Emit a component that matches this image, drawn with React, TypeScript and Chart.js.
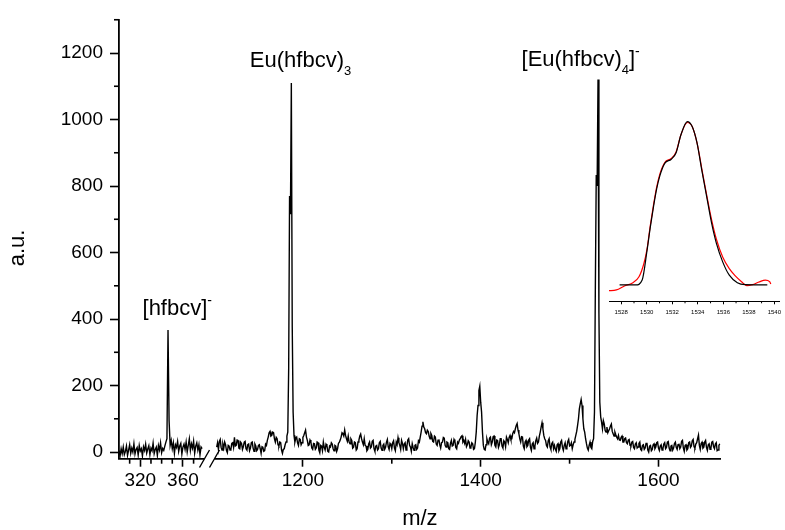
import React, { useEffect, useRef } from 'react';
import { Chart, registerables } from 'chart.js';

Chart.register(...registerables);

// ---------------- data ----------------
// left segment of the broken m/z axis (300 .. 378, step 1)
const leftStart = 300;
const leftStep = 1;
const leftIntensity = [
  5, -12, 10, -5, 15, -8, 2, 18, -10, 6,
  22, -4, 12, 0, 25, -6, 8, 14, -9, 20,
  3, 10, -12, 16, 5, 24, -3, 9, 19, -8,
  12, 4, 27, -5, 8, 15, -10, 20, 6, 28,
  -2, 11, 5, 18, 30, 40, 367, 95, 20, 35,
  10, 28, -4, 22, 14, 32, 2, 18, 26, -6,
  15, 24, 8, 30, 0, 20, 40, 5, 25, 12,
  33, -3, 18, 28, 6, 22, -8, 15, 10,
];

// right segment of the broken m/z axis (1103 .. 1669, step 1)
const rightStart = 1103;
const rightStep = 1;
const rightIntensity = [
  15, 28, 8, 32, 38, 14, 6, 24, 12, 30,
  22, 5, -2, 20, 18, 6, 8, 26, 28, 14,
  44, 18, 20, 36, 35, 12, 10, 30, 26, 8,
  16, 30, 32, 10, 6, 22, 24, 4, 12, 28,
  30, 12, 2, 24, 18, 4, 8, 20, 22, 10,
  -4, 16, 14, 2, 4, 24, 20, 35, 45, 58,
  62, 48, 50, 60, 58, 40, 30, 44, 40, 22,
  18, 30, 28, 6, -4, 8, 10, 22, 30, 48,
  60, 250, 770, 715, 1110, 380, 120, 50, 30, 42,
  45, 28, 20, 40, 38, 22, 28, 44, 50, 58,
  66, 45, 35, 20, 22, 36, 30, 12, 8, 26,
  25, 8, 12, 30, 28, 6, -2, 20, 18, 4,
  30, 14, 6, 24, 20, 2, 0, 18, 15, 28,
  24, 10, 4, 20, 18, 2, 10, 26, 30, 36,
  45, 58, 55, 48, 66, 50, 40, 32, 48, 30,
  25, 40, 35, 12, 15, 30, 28, 6, 10, 30,
  36, 48, 54, 40, 30, 22, 40, 20, 18, 4,
  8, 24, 30, 12, 15, 32, 35, 10, 2, 18,
  20, 6, 10, 28, 32, 12, 5, 20, 24, 8,
  14, 30, 38, 16, 8, 26, 22, 10, 28, 34,
  12, 4, 30, 22, 43, 28, 20, 8, 35, 26,
  10, 24, 28, 6, 18, 36, 40, 20, 15, 2,
  25, 14, 5, 20, 22, 8, 12, 34, 30, 45,
  60, 78, 91, 75, 70, 58, 55, 66, 62, 48,
  40, 56, 50, 32, 30, 48, 45, 24, 20, 36,
  38, 22, 12, 28, 30, 44, 42, 20, 15, 30,
  28, 10, 8, 26, 35, 18, 20, 38, 32, 14,
  10, 30, 26, 36, 40, 46, 49, 30, 35, 26,
  38, 16, 22, 34, 30, 12, 15, 28, 25, 8,
  10, 30, 60, 110, 140, 185, 198, 150, 120, 60,
  20, 8, 6, 22, 40, 30, 25, 42, 45, 22,
  30, 46, 48, 20, 15, 36, 35, 14, 22, 40,
  40, 18, 12, 34, 30, 16, 45, 38, 28, 44,
  50, 38, 40, 55, 62, 58, 70, 80, 86, 66,
  55, 40, 30, 46, 45, 18, 10, 30, 35, 16,
  20, 36, 40, 14, 5, 24, 28, 10, 18, 34,
  42, 26, 30, 48, 60, 75, 88, 70, 50, 40,
  35, 20, 15, 34, 40, 16, 8, 26, 30, 10,
  20, 8, 2, 22, 25, 4, 10, 30, 35, 14,
  5, 20, 28, 10, 15, 32, 38, 18, 20, 28,
  10, 22, 30, 38, 50, 62, 80, 100, 130, 145,
  158, 140, 100, 70, 60, 40, 25, 12, 6, 20,
  30, 14, 10, 32, 40, 120, 500, 833, 800, 1120,
  420, 150, 106, 90, 70, 95, 85, 65, 60, 75,
  58, 64, 70, 78, 84, 62, 55, 48, 60, 52,
  45, 40, 50, 36, 35, 44, 48, 30, 30, 40,
  42, 28, 25, 36, 38, 20, 18, 30, 32, 14,
  10, 24, 28, 12, 15, 26, 30, 8, 5, 20,
  22, 8, 12, 26, 28, 6, 0, 18, 20, 4,
  8, 22, 25, 10, 15, 28, 30, 12, 5, 18,
  22, 6, 10, 24, 28, 10, 14, 30, 32, 12,
  4, 18, 20, 6, 12, 26, 30, 14, 8, 22,
  25, 10, 15, 32, 35, 12, 2, 20, 22, 6,
  10, 28, 30, 14, 18, 34, 38, 16, 12, 24,
  28, 40, 51, 20, 8, 26, 30, 12, 15, 30,
  35, 14, 5, 22, 25, 8, 12, 30, 32, 16,
  10, 24, 28, 4, 6, 20, 25,
];

const yTickValues = [0, 200, 400, 600, 800, 1000, 1200];
const yMinorValues = [100, 300, 500, 700, 900, 1100, 1300];
const leftTickValues = [320, 360];
const leftMinorValues = [310, 330, 340, 350, 370];
const rightTickValues = [1200, 1400, 1600];
const rightMinorValues = [1300, 1500];

// inset: isotope pattern, experimental (black) and simulated (red)
const insetTickValues = [1528, 1530, 1532, 1534, 1536, 1538, 1540];
const insetMinorValues = [1529, 1531, 1533, 1535, 1537, 1539];
const insetBlackMz = [1527.87, 1529.14, 1529.64, 1530.02, 1530.27, 1530.53, 1530.78, 1531.03, 1531.41, 1531.92, 1532.30, 1532.68, 1533.18, 1533.56, 1533.94, 1534.32, 1534.70, 1535.08, 1535.46, 1535.96, 1536.47, 1537.10, 1537.73, 1539.45];
const insetBlackInt = [0, 0, 0.03, 0.21, 0.35, 0.48, 0.59, 0.67, 0.745, 0.77, 0.81, 0.92, 1.0, 0.97, 0.87, 0.70, 0.54, 0.38, 0.255, 0.14, 0.06, 0.014, 0.002, 0];
const insetRedMz = [1526.99, 1527.62, 1528.25, 1528.88, 1529.39, 1529.77, 1530.02, 1530.27, 1530.53, 1530.78, 1531.03, 1531.41, 1531.92, 1532.30, 1532.68, 1533.18, 1533.56, 1533.94, 1534.32, 1534.70, 1535.08, 1535.46, 1535.96, 1536.47, 1536.92, 1537.43, 1537.86, 1538.29, 1538.79, 1539.30, 1539.63, 1539.73];
const insetRedInt = [-0.035, -0.03, -0.006, 0.012, 0.05, 0.13, 0.22, 0.36, 0.49, 0.60, 0.68, 0.75, 0.775, 0.815, 0.92, 0.995, 0.97, 0.87, 0.71, 0.55, 0.40, 0.28, 0.17, 0.10, 0.057, 0.02, -0.004, 0.002, 0.018, 0.03, 0.02, 0.006];

// peak annotations
const annotationAxis = ['x1', 'x2', 'x2'];
const annotationMz = [346, 1187, 1532];
const annotationParts = [
  [{ t: '[hfbcv]', k: 'n' }, { t: '-', k: 'sup' }],
  [{ t: 'Eu(hfbcv)', k: 'n' }, { t: '3', k: 'sub' }],
  [{ t: '[Eu(hfbcv)', k: 'n' }, { t: '4', k: 'sub' }, { t: ']', k: 'n' }, { t: '-', k: 'sup' }],
];

// ---------------- styling helpers ----------------
const FONT = '"Liberation Sans", Arial, Helvetica, sans-serif';

function drawMinorTicks(chart: any, specs: { id: string; values: number[]; len: number; width: number }[]) {
  const ctx = chart.ctx;
  ctx.save();
  ctx.strokeStyle = '#000';
  for (const s of specs) {
    const sc = chart.scales[s.id];
    if (!sc) continue;
    ctx.lineWidth = s.width;
    for (const v of s.values) {
      const p = sc.getPixelForValue(v);
      ctx.beginPath();
      if (sc.isHorizontal()) {
        ctx.moveTo(p, sc.top);
        ctx.lineTo(p, sc.top + s.len);
      } else {
        ctx.moveTo(sc.right - s.len, p);
        ctx.lineTo(sc.right, p);
      }
      ctx.stroke();
    }
  }
  ctx.restore();
}

function drawParts(ctx: any, x: number, y: number, parts: { t: string; k: string }[]) {
  let cx = x;
  for (const p of parts) {
    let size = 22;
    let dy = 0;
    if (p.k === 'sub') { size = 13; dy = 8; }
    if (p.k === 'sup') { size = 14; dy = -10; }
    ctx.font = `${size}px ${FONT}`;
    ctx.fillText(p.t, cx, y + dy);
    cx += ctx.measureText(p.t).width;
  }
}

const mainDecor = {
  id: 'mainDecor',
  afterDraw(chart: any) {
    drawMinorTicks(chart, [
      { id: 'y', values: yMinorValues, len: 5, width: 1.6 },
      { id: 'x1', values: leftMinorValues, len: 5, width: 1.6 },
      { id: 'x2', values: rightMinorValues, len: 5, width: 1.6 },
    ]);
    const ctx = chart.ctx;
    const x1 = chart.scales.x1;
    ctx.save();
    // axis break
    const axisY = x1.top;
    ctx.fillStyle = '#fff';
    ctx.fillRect(204, axisY - 2.5, 10.5, 5);
    ctx.strokeStyle = '#000';
    ctx.lineWidth = 1.4;
    ctx.beginPath();
    ctx.moveTo(199.5, 467.5); ctx.lineTo(209.5, 450);
    ctx.moveTo(209.5, 467.5); ctx.lineTo(219.5, 450);
    ctx.stroke();

    // annotations
    ctx.fillStyle = '#000';
    ctx.textAlign = 'left';
    ctx.textBaseline = 'alphabetic';
    const offsets = [[-25.5, 315], [-41.5, 66.5], [-76.5, 66]];
    annotationMz.forEach((mz, i) => {
      const sc = chart.scales[annotationAxis[i]];
      const px = sc.getPixelForValue(mz);
      drawParts(ctx, px + offsets[i][0], offsets[i][1], annotationParts[i]);
    });

    // axis titles
    ctx.font = `22px ${FONT}`;
    ctx.textAlign = 'center';
    ctx.textBaseline = 'middle';
    ctx.fillText('m/z', (chart.chartArea.left + chart.chartArea.right) / 2, 519);
    ctx.translate(18, 248);
    ctx.rotate(-Math.PI / 2);
    ctx.fillText('a.u.', 0, 0);
    ctx.restore();
  },
};

const insetDecor = {
  id: 'insetDecor',
  afterDraw(chart: any) {
    drawMinorTicks(chart, [{ id: 'x', values: insetMinorValues, len: 2, width: 1 }]);
  },
};

function axisCommon(tickValues: number[], tickLen: number, fontSize: number, pad: number) {
  return {
    type: 'linear' as const,
    afterBuildTicks: (s: any) => { s.ticks = tickValues.map((v) => ({ value: v })); },
    grid: { drawOnChartArea: false, drawTicks: true, tickLength: tickLen, tickColor: '#000', tickWidth: 1.6 },
    border: { display: true, color: '#000', width: 1.8 },
    ticks: {
      color: '#000',
      font: { family: FONT, size: fontSize },
      padding: pad,
      autoSkip: false,
      maxRotation: 0,
      callback: (v: any) => String(v),
    },
  };
}

export default function App() {
  const mainRef = useRef<HTMLCanvasElement>(null);
  const insetRef = useRef<HTMLCanvasElement>(null);

  useEffect(() => {
    const leftPoints = leftIntensity.map((y, i) => ({ x: leftStart + i * leftStep, y }));
    const rightPoints = rightIntensity.map((y, i) => ({ x: rightStart + i * rightStep, y }));

    const main = new Chart(mainRef.current as HTMLCanvasElement, {
      type: 'line',
      data: {
        datasets: [
          { data: leftPoints, xAxisID: 'x1', yAxisID: 'y', borderColor: '#000', borderWidth: 1.4, pointRadius: 0, tension: 0, fill: false },
          { data: rightPoints, xAxisID: 'x2', yAxisID: 'y', borderColor: '#000', borderWidth: 1.4, pointRadius: 0, tension: 0, fill: false },
        ],
      },
      options: {
        animation: false,
        responsive: false,
        devicePixelRatio: 1,
        events: [],
        layout: { padding: { left: 0, right: 64.3, top: 19.75, bottom: 0 }, autoPadding: false },
        plugins: { legend: { display: false }, tooltip: { enabled: false }, title: { display: false } },
        scales: {
          x1: {
            ...axisCommon(leftTickValues, 8, 19, 3),
            position: 'bottom',
            axis: 'x',
            stack: 'bottomStack',
            stackWeight: 91,
            min: 300,
            max: 385.4,
            afterFit: (s: any) => { s.height = 71.3; },
          },
          x2: {
            ...axisCommon(rightTickValues, 8, 19, 3),
            position: 'bottom',
            axis: 'x',
            stack: 'bottomStack',
            stackWeight: 510.7,
            min: 1095.5,
            max: 1670,
            afterFit: (s: any) => { s.height = 71.3; },
          },
          y: {
            ...axisCommon(yTickValues, 9, 19, 7),
            position: 'left',
            min: -20,
            max: 1300,
            afterFit: (s: any) => { s.width = 119; },
          },
        },
      } as any,
      plugins: [mainDecor],
    });

    const blackPoints = insetBlackMz.map((x, i) => ({ x, y: insetBlackInt[i] }));
    const redPoints = insetRedMz.map((x, i) => ({ x, y: insetRedInt[i] }));

    const inset = new Chart(insetRef.current as HTMLCanvasElement, {
      type: 'line',
      data: {
        datasets: [
          { data: blackPoints, borderColor: '#000', borderWidth: 1.2, pointRadius: 0, cubicInterpolationMode: 'monotone', fill: false },
          { data: redPoints, borderColor: '#ff0000', borderWidth: 1.2, pointRadius: 0, cubicInterpolationMode: 'monotone', fill: false },
        ],
      },
      options: {
        animation: false,
        responsive: false,
        devicePixelRatio: 1,
        events: [],
        layout: { padding: { left: 9, right: 0, top: 13.5, bottom: 0 }, autoPadding: false },
        plugins: { legend: { display: false }, tooltip: { enabled: false } },
        scales: {
          x: {
            ...axisCommon(insetTickValues, 3, 6, 4),
            position: 'bottom',
            min: 1527.04,
            max: 1540.37,
            grid: { drawOnChartArea: false, drawTicks: true, tickLength: 3, tickColor: '#000', tickWidth: 1 },
            border: { display: true, color: '#000', width: 1 },
            afterFit: (s: any) => { s.height = 28.7; },
          },
          y: { type: 'linear', display: false, min: -0.1, max: 1.05 },
        },
      } as any,
      plugins: [insetDecor],
    });

    return () => {
      main.destroy();
      inset.destroy();
    };
  }, []);

  return (
    <div style={{ position: 'absolute', left: 0, top: 0, width: 785, height: 530, background: '#fff' }}>
      <canvas ref={mainRef} width={785} height={530} style={{ position: 'absolute', left: 0, top: 0, display: 'block' }} />
      <canvas ref={insetRef} width={185} height={230} style={{ position: 'absolute', left: 600, top: 100, display: 'block' }} />
    </div>
  );
}
